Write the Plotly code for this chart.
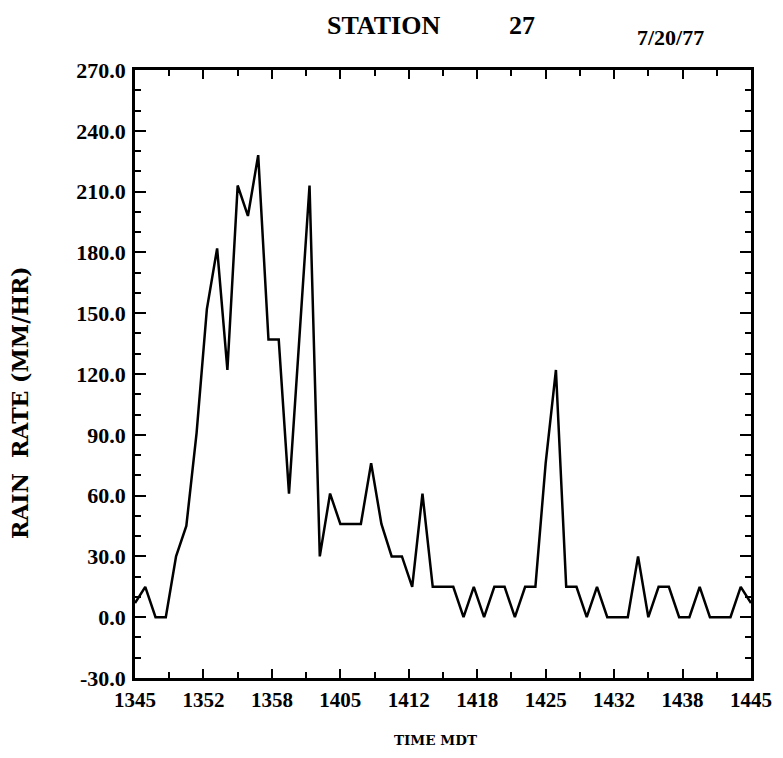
import plotly.graph_objects as go

# minutes after 1345 MDT
minutes = list(range(0, 61))
rain_rate = [7, 15, 0, 0, 30, 45, 91, 152, 182, 122,
             213, 198, 228, 137, 137, 61, 137, 213, 30, 61,
             46, 46, 46, 76, 46, 30, 30, 15, 61, 15,
             15, 15, 0, 15, 0, 15, 15, 0, 15, 15,
             76, 122, 15, 15, 0, 15, 0, 0, 0, 30,
             0, 15, 15, 0, 0, 15, 0, 0, 0, 15, 7]

x_tick_vals = [0, 20/3, 40/3, 20, 80/3, 100/3, 40, 140/3, 160/3, 60]
x_tick_text = ["1345", "1352", "1358", "1405", "1412", "1418", "1425", "1432", "1438", "1445"]
y_tick_vals = [-30, 0, 30, 60, 90, 120, 150, 180, 210, 240, 270]
y_tick_text = ["-30.0", "0.0", "30.0", "60.0", "90.0", "120.0", "150.0", "180.0", "210.0", "240.0", "270.0"]

SERIF = "Liberation Serif"
WIDE = "DejaVu Serif"

fig = go.Figure()
fig.add_trace(go.Scatter(x=minutes, y=rain_rate, mode="lines",
                         line=dict(color="black", width=2.5), cliponaxis=True,
                         hoverinfo="skip", showlegend=False))

axis_common = dict(showgrid=False, zeroline=False, showline=True, linecolor="black",
                   linewidth=2.5, mirror="allticks", ticks="inside", tickcolor="black",
                   tickwidth=2)

fig.update_xaxes(range=[0, 60], tickmode="array", tickvals=x_tick_vals, ticktext=x_tick_text,
                 ticklen=9, ticklabelstandoff=1,
                 tickfont=dict(family=SERIF, size=21, color="black", weight="bold"),
                 minor=dict(tickmode="linear", tick0=0, dtick=10/3, ticks="inside", ticklen=6,
                            tickwidth=2, tickcolor="black"),
                 **axis_common)
fig.update_yaxes(range=[-30, 270], tickmode="array", tickvals=y_tick_vals, ticktext=y_tick_text,
                 ticklen=11, ticklabelstandoff=2,
                 tickfont=dict(family=SERIF, size=22, color="black", weight="bold"),
                 minor=dict(tickmode="linear", tick0=0, dtick=10, ticks="inside", ticklen=6,
                            tickwidth=2, tickcolor="black"),
                 **axis_common)

OFF = 8  # page body margin
W, H = 783 - 2 * OFF, 758 - 2 * OFF
# target frame in screen pixels: x 135..751, y 70..678
L, T = 135 - OFF, 70 - OFF
R = W - (751 - OFF)
B = H - (678 - OFF)
pw, ph = W - L - R, H - T - B

def px(x):
    return (x - OFF - L) / pw

def py(y):
    return (H - B - (y - OFF)) / ph

annotations = [
    dict(text="STATION", x=px(383), y=py(8.5), yanchor="top", font=dict(family=SERIF, size=26, weight="bold")),
    dict(text="27", x=px(522), y=py(8.5), yanchor="top", font=dict(family=SERIF, size=26, weight="bold")),
    dict(text="7/20/77", x=px(670), y=py(37), font=dict(family=SERIF, size=22, weight="bold")),
    dict(text="RAIN&nbsp;&nbsp;RATE (MM/HR)", x=px(20), y=py(403), textangle=-90,
         font=dict(family=WIDE, size=22, weight="bold")),
    dict(text="TIME MDT", x=px(435), y=py(749.5), yanchor="bottom", font=dict(family=WIDE, size=13.5, weight="bold")),
]
for a in annotations:
    a.setdefault("yanchor", "middle")
    a.update(xref="paper", yref="paper", showarrow=False, xanchor="center")
    a["font"]["color"] = "black"

fig.update_layout(width=W, height=H, margin=dict(l=L, r=R, t=T, b=B, autoexpand=False),
                  paper_bgcolor="white", plot_bgcolor="white", annotations=annotations)

fig.write_html("out.html")
